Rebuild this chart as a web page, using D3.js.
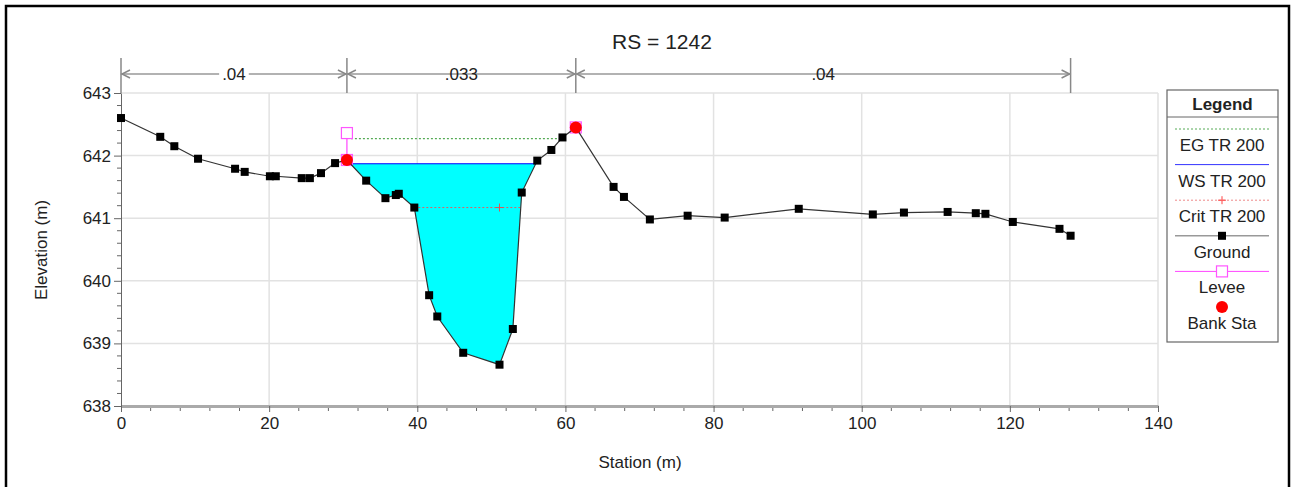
<!DOCTYPE html>
<html>
<head>
<meta charset="utf-8">
<script src="https://cdn.jsdelivr.net/npm/d3@7/dist/d3.min.js"></script>
<style>
  body { margin: 0; background: #fff; }
  text { font-family: "Liberation Sans", Arial, sans-serif; fill: #222; }
</style>
</head>
<body>
<div id="canvas"></div>
<script>
// data
var groundSta  = [0, 5.3, 7.2, 10.4, 15.4, 16.7, 20.1, 20.9, 24.4, 25.5, 27.0, 28.9, 30.5,
                  33.1, 35.7, 37.1, 37.5, 39.6, 41.6, 42.7, 46.2, 51.1, 52.9, 54.1, 56.2, 58.1, 59.6, 61.4,
                  66.5, 67.9, 71.4, 76.5, 81.5, 91.5, 101.5, 105.7, 111.6, 115.4, 116.7, 120.4, 126.7, 128.2];
var groundElev = [642.60, 642.30, 642.15, 641.95, 641.79, 641.74, 641.67, 641.67, 641.64, 641.64, 641.72, 641.88, 641.93,
                  641.60, 641.32, 641.37, 641.39, 641.17, 639.77, 639.43, 638.85, 638.66, 639.23, 641.41, 641.92, 642.09, 642.29, 642.45,
                  641.50, 641.34, 640.98, 641.04, 641.01, 641.15, 641.06, 641.09, 641.10, 641.08, 641.07, 640.94, 640.83, 640.72];
var bankSta = [30.5, 61.4];
var leveeSta = [30.5, 61.4];
var leveeElev = [642.36, 642.45];
var wsElev = 641.87;
var egElev = 642.27;
var critElev = 641.17;
var nSta = [0, 30.5, 61.4, 128.2];
var nVal = [".04", ".033", ".04"];
var xTicks = [0, 20, 40, 60, 80, 100, 120, 140];
var yTicks = [638, 639, 640, 641, 642, 643];
var legendNames = ["EG TR 200", "WS TR 200", "Crit TR 200", "Ground", "Levee", "Bank Sta"];

var w = 1296, h = 487;
var svg = d3.select("#canvas").append("svg").attr("width", w).attr("height", h);

var x = d3.scaleLinear().domain([0, 140]).range([121, 1158]);
var y = d3.scaleLinear().domain([638, 643]).range([406, 93]);

function groundAt(s) {
  var i = d3.bisectRight(groundSta, s) - 1;
  if (i < 0) return groundElev[0];
  if (i >= groundSta.length - 1) return groundElev[groundSta.length - 1];
  var t = (s - groundSta[i]) / (groundSta[i + 1] - groundSta[i]);
  return groundElev[i] + t * (groundElev[i + 1] - groundElev[i]);
}
function cross(i, elev) {
  var t = (elev - groundElev[i]) / (groundElev[i + 1] - groundElev[i]);
  return groundSta[i] + t * (groundSta[i + 1] - groundSta[i]);
}
// wetted extent for a level starting at a station
function wetExtent(elev, fromSta) {
  var i = groundSta.findIndex(function(s) { return s >= fromSta; });
  while (groundElev[i + 1] >= elev) i++;
  var l = groundElev[i] >= elev ? cross(i, elev) : groundSta[i];
  var j = i + 1;
  while (groundElev[j] < elev) j++;
  var r = cross(j - 1, elev);
  return [l, r];
}

// outer frame
svg.append("rect").attr("x", 6).attr("y", 6).attr("width", 1283).attr("height", 520)
  .attr("fill", "none").attr("stroke", "#000").attr("stroke-width", 2.5);

// grid
svg.append("g").selectAll("line").data(xTicks.slice(1)).join("line")
  .attr("x1", d => x(d)).attr("x2", d => x(d)).attr("y1", y(643)).attr("y2", y(638))
  .attr("stroke", "#e2e2e2").attr("stroke-width", 1.5);
svg.append("g").selectAll("line").data(yTicks.slice(1)).join("line")
  .attr("x1", x(0)).attr("x2", x(140)).attr("y1", d => y(d)).attr("y2", d => y(d))
  .attr("stroke", "#e2e2e2").attr("stroke-width", 1.5);

// minor ticks
var xMinor = d3.range(0, 141, 4).filter(d => d % 20 != 0);
var yMinor = d3.range(638, 643.01, 0.2).filter(d => Math.abs(d - Math.round(d)) > 0.01);
svg.append("g").selectAll("line").data(xMinor).join("line")
  .attr("x1", d => x(d)).attr("x2", d => x(d)).attr("y1", y(638)).attr("y2", y(638) + 5)
  .attr("stroke", "#666");
svg.append("g").selectAll("line").data(yMinor).join("line")
  .attr("x1", x(0) - 4).attr("x2", x(0)).attr("y1", d => y(d)).attr("y2", d => y(d))
  .attr("stroke", "#666");

// axes
var xAxis = svg.append("g").attr("transform", "translate(0," + y(638) + ")")
  .call(d3.axisBottom(x).tickValues(xTicks).tickSize(6).tickPadding(5).tickSizeOuter(0));
xAxis.select(".domain").attr("stroke", "#aaa").attr("stroke-width", 3);
xAxis.selectAll(".tick line").attr("stroke", "#666");
xAxis.selectAll("text").style("font-size", "17px").attr("fill", "#222");

var yAxis = svg.append("g").attr("transform", "translate(" + x(0) + ",0)")
  .call(d3.axisLeft(y).tickValues(yTicks).tickFormat(d3.format("d")).tickSize(7).tickPadding(3).tickSizeOuter(0));
yAxis.select(".domain").attr("stroke", "#666");
yAxis.selectAll(".tick line").attr("stroke", "#666");
yAxis.selectAll("text").style("font-size", "17px").attr("fill", "#222");

svg.append("text").attr("x", 640).attr("y", 468).attr("text-anchor", "middle")
  .style("font-size", "17px").text("Station (m)");
svg.append("text").attr("transform", "translate(47,250) rotate(-90)").attr("text-anchor", "middle")
  .style("font-size", "17px").text("Elevation (m)");

// title
svg.append("text").attr("x", 662).attr("y", 49).attr("text-anchor", "middle")
  .style("font-size", "21px").text("RS = 1242");

// manning's n bar
var ny = 74;
var gn = svg.append("g");
gn.selectAll("line.tk").data(nSta).join("line").attr("class", "tk")
  .attr("x1", d => x(d)).attr("x2", d => x(d)).attr("y1", 58).attr("y2", y(643))
  .attr("stroke", "#888").attr("stroke-width", 1.5);
nVal.forEach(function(v, i) {
  var a = x(nSta[i]), b = x(nSta[i + 1]);
  gn.append("line").attr("x1", a).attr("x2", b).attr("y1", ny).attr("y2", ny)
    .attr("stroke", "#999").attr("stroke-width", 1.5);
  gn.append("path").attr("d", "M" + (a + 9) + "," + (ny - 4) + "L" + (a + 1) + "," + ny + "L" + (a + 9) + "," + (ny + 4))
    .attr("fill", "none").attr("stroke", "#888").attr("stroke-width", 1.5);
  gn.append("path").attr("d", "M" + (b - 9) + "," + (ny - 4) + "L" + (b - 1) + "," + ny + "L" + (b - 9) + "," + (ny + 4))
    .attr("fill", "none").attr("stroke", "#888").attr("stroke-width", 1.5);
  var t = gn.append("text").attr("x", (a + b) / 2).attr("y", ny + 6).attr("text-anchor", "middle")
    .style("font-size", "17px").text(v);
  var bb = t.node().getBBox();
  gn.insert("rect", "text").attr("x", bb.x - 3).attr("y", ny - 3).attr("width", bb.width + 6).attr("height", 6)
    .attr("fill", "#fff");
});

// water fill
var ws = wetExtent(wsElev, bankSta[0]);
var poly = [[ws[0], wsElev]];
groundSta.forEach(function(s, i) { if (s > ws[0] && s < ws[1]) poly.push([s, groundElev[i]]); });
poly.push([ws[1], wsElev]);
svg.append("path").datum(poly)
  .attr("d", d3.line().x(d => x(d[0])).y(d => y(d[1])))
  .attr("fill", "#00ffff").attr("stroke", "none");
svg.append("line").attr("x1", x(ws[0])).attr("x2", x(ws[1])).attr("y1", y(wsElev)).attr("y2", y(wsElev))
  .attr("stroke", "#0000ff").attr("stroke-width", 1.2);

// EG
var eg = wetExtent(egElev, leveeSta[0]);
svg.append("line").attr("x1", x(eg[0]) + 4).attr("x2", x(eg[1])).attr("y1", y(egElev)).attr("y2", y(egElev))
  .attr("stroke", "#55aa55").attr("stroke-width", 1.2).attr("stroke-dasharray", "2,2");

// crit
var cr = wetExtent(critElev, bankSta[0]);
var thalweg = groundSta[d3.minIndex(groundElev)];
svg.append("line").attr("x1", x(cr[0])).attr("x2", x(cr[1])).attr("y1", y(critElev)).attr("y2", y(critElev))
  .attr("stroke", "#e06060").attr("stroke-width", 1).attr("stroke-dasharray", "2,2");
svg.append("path").attr("d", "M" + (x(thalweg) - 4) + "," + y(critElev) + "h8M" + x(thalweg) + "," + (y(critElev) - 4) + "v8")
  .attr("stroke", "#dd5555").attr("stroke-width", 1);

// levee
svg.append("line").attr("x1", x(leveeSta[0])).attr("x2", x(leveeSta[0]))
  .attr("y1", y(groundAt(leveeSta[0]))).attr("y2", y(leveeElev[0]))
  .attr("stroke", "#ff44ff").attr("stroke-width", 1.2);
var leveePts = [[leveeSta[0], leveeElev[0]], [leveeSta[0], groundAt(leveeSta[0])], [leveeSta[1], leveeElev[1]]];
svg.append("g").selectAll("rect").data(leveePts).join("rect")
  .attr("x", d => x(d[0]) - 5.5).attr("y", d => y(d[1]) - 5.5).attr("width", 11).attr("height", 11)
  .attr("fill", "#fff").attr("fill-opacity", d => d[1] == leveeElev[0] ? 1 : 0)
  .attr("stroke", "#ff55ff").attr("stroke-width", 1.2);

// ground
svg.append("path").datum(groundSta.map((s, i) => [s, groundElev[i]]))
  .attr("d", d3.line().x(d => x(d[0])).y(d => y(d[1])))
  .attr("fill", "none").attr("stroke", "#333").attr("stroke-width", 1.2);
svg.append("g").selectAll("rect").data(groundSta.map((s, i) => [s, groundElev[i]]).filter(d => bankSta.indexOf(d[0]) < 0)).join("rect")
  .attr("x", d => x(d[0]) - 4).attr("y", d => y(d[1]) - 4).attr("width", 8).attr("height", 8)
  .attr("fill", "#000");

// bank stations
svg.append("g").selectAll("circle").data(bankSta).join("circle")
  .attr("cx", d => x(d)).attr("cy", d => y(groundAt(d))).attr("r", 6)
  .attr("fill", "#ff0000");

// legend
var lg = svg.append("g");
lg.append("rect").attr("x", 1167).attr("y", 90).attr("width", 111).attr("height", 252)
  .attr("fill", "#fff").attr("stroke", "#666").attr("stroke-width", 1.2);
lg.append("line").attr("x1", 1167).attr("x2", 1278).attr("y1", 117).attr("y2", 117).attr("stroke", "#666");
lg.append("text").attr("x", 1222.5).attr("y", 110).attr("text-anchor", "middle")
  .style("font-size", "17px").style("font-weight", "bold").text("Legend");
var lx1 = 1175, lx2 = 1269, lc = 1222;
legendNames.forEach(function(n, i) {
  var sy = 129 + i * 35.6;
  var g = lg.append("g");
  if (i == 0) g.append("line").attr("x1", lx1).attr("x2", lx2).attr("y1", sy).attr("y2", sy)
    .attr("stroke", "#55aa55").attr("stroke-dasharray", "2,2");
  if (i == 1) g.append("line").attr("x1", lx1).attr("x2", lx2).attr("y1", sy).attr("y2", sy)
    .attr("stroke", "#3333ff");
  if (i == 2) {
    g.append("line").attr("x1", lx1).attr("x2", lx2).attr("y1", sy).attr("y2", sy)
      .attr("stroke", "#ee8888").attr("stroke-dasharray", "2,2");
    g.append("path").attr("d", "M" + (lc - 4) + "," + sy + "h8M" + lc + "," + (sy - 4) + "v8").attr("stroke", "#ff4444");
  }
  if (i == 3) {
    g.append("line").attr("x1", lx1).attr("x2", lx2).attr("y1", sy).attr("y2", sy).attr("stroke", "#999").attr("stroke-width", 1.5);
    g.append("rect").attr("x", lc - 4).attr("y", sy - 4).attr("width", 8).attr("height", 8).attr("fill", "#000");
  }
  if (i == 4) {
    g.append("line").attr("x1", lx1).attr("x2", lx2).attr("y1", sy).attr("y2", sy).attr("stroke", "#ff44ff");
    g.append("rect").attr("x", lc - 5.5).attr("y", sy - 5.5).attr("width", 11).attr("height", 11)
      .attr("fill", "#fff").attr("stroke", "#ff55ff").attr("stroke-width", 1.2);
  }
  if (i == 5) g.append("circle").attr("cx", lc).attr("cy", sy).attr("r", 6).attr("fill", "#ff0000");
  g.append("text").attr("x", lc).attr("y", sy + 22).attr("text-anchor", "middle")
    .style("font-size", "17px").text(n);
});
</script>
</body>
</html>
